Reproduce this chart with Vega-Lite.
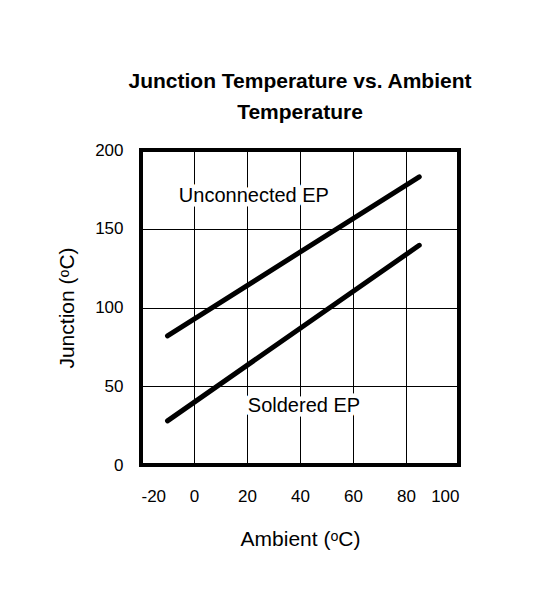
{
  "$schema": "https://vega.github.io/schema/vega-lite/v6.json",
  "autosize": "none",
  "width": 318,
  "height": 315,
  "padding": {"left": 141, "top": 150, "right": 86, "bottom": 131},
  "background": "white",
  "config": {
    "font": "Liberation Sans",
    "view": {"stroke": "black", "strokeWidth": 4},
    "axis": {"grid": true, "gridColor": "black", "gridWidth": 1, "gridOpacity": 1, "domain": false, "ticks": false, "labelColor": "black", "titleColor": "black", "labelFont": "Liberation Sans", "titleFont": "Liberation Sans"}
  },
  "title": {
    "text": ["Junction Temperature vs. Ambient", "Temperature"],
    "fontSize": 21,
    "fontWeight": "bold",
    "color": "black",
    "anchor": "middle",
    "offset": 18,
    "lineHeight": 31,
    "font": "Liberation Sans"
  },
  "datasets": {
    "lines": [
      {"series": "Unconnected EP", "ambient": -10, "junction": 82},
      {"series": "Unconnected EP", "ambient": 85, "junction": 183},
      {"series": "Soldered EP", "ambient": -10, "junction": 28},
      {"series": "Soldered EP", "ambient": 85, "junction": 139.5}
    ],
    "labels": [
      {"label": "Unconnected EP", "ambient": 22.6, "junction": 170.5},
      {"label": "Soldered EP", "ambient": 41.5, "junction": 37.5}
    ]
  },
  "layer": [
    {
      "data": {"name": "labels"},
      "mark": {"type": "text", "fontSize": 20, "color": "white", "stroke": "white", "strokeWidth": 9, "strokeJoin": "round", "font": "Liberation Sans"},
      "encoding": {
        "x": {"field": "ambient", "type": "quantitative", "scale": {"domain": [-20, 100], "nice": false}, "axis": {"values": [-20, 0, 20, 40, 60, 80, 100], "labelExpr": "replace(datum.label, '−', '-')", "title": "Ambient (ᵒC)", "labelFontSize": 17, "titleFontSize": 21, "titleFontWeight": "normal", "labelPadding": 23, "titlePadding": 24}},
        "y": {"field": "junction", "type": "quantitative", "scale": {"domain": [0, 200], "nice": false}, "axis": {"values": [0, 50, 100, 150, 200], "title": "Junction (ᵒC)", "labelFontSize": 17, "titleFontSize": 21, "titleFontWeight": "normal", "labelPadding": 18, "titlePadding": 17}},
        "text": {"field": "label"}
      }
    },
    {
      "data": {"name": "lines"},
      "mark": {"type": "line", "color": "black", "strokeWidth": 5, "strokeCap": "round"},
      "encoding": {
        "x": {"field": "ambient", "type": "quantitative"},
        "y": {"field": "junction", "type": "quantitative"},
        "detail": {"field": "series"}
      }
    },
    {
      "data": {"name": "labels"},
      "mark": {"type": "text", "fontSize": 20, "color": "black", "font": "Liberation Sans"},
      "encoding": {
        "x": {"field": "ambient", "type": "quantitative"},
        "y": {"field": "junction", "type": "quantitative"},
        "text": {"field": "label"}
      }
    }
  ]
}
